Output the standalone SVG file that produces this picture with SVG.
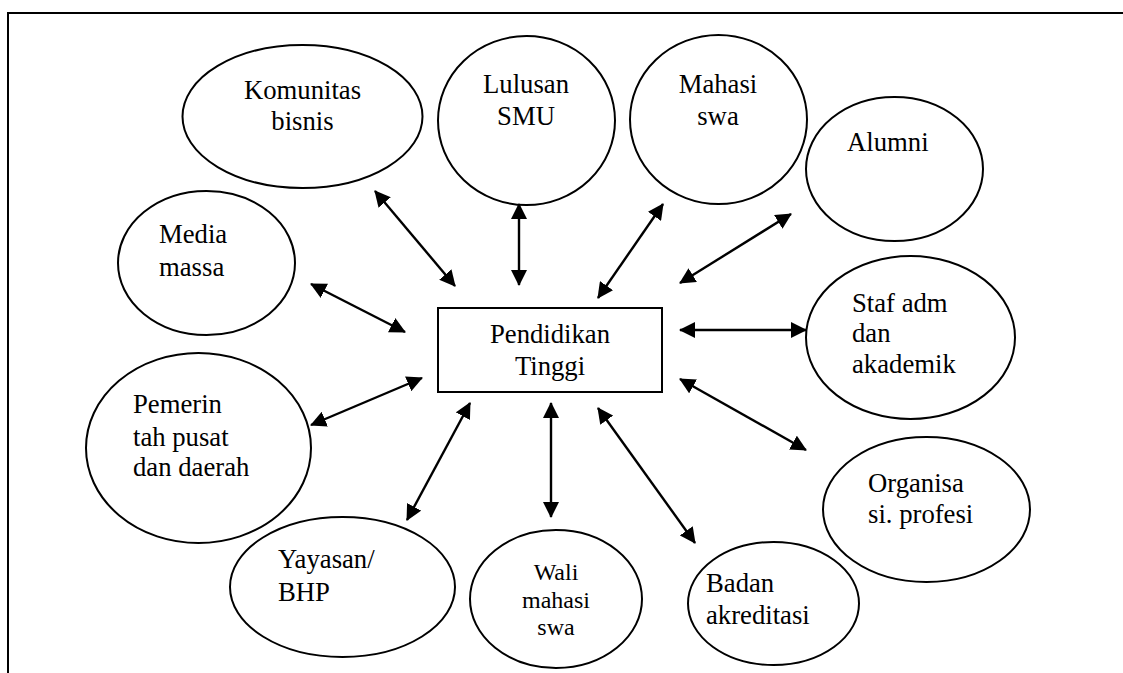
<svg xmlns="http://www.w3.org/2000/svg" width="1123" height="673" viewBox="0 0 1123 673">
  <style>
    .node { fill: #ffffff; stroke: #000000; stroke-width: 2; }
    .lbl { font-size: 26.7px; fill: #000000; }
    .sm { font-size: 24px; }
    .mid { text-anchor: middle; }
    .link { stroke: #000000; stroke-width: 2.4; fill: none; marker-start: url(#head); marker-end: url(#head); }
    .frame { stroke: #000000; stroke-width: 2; fill: none; }
  </style>
  <defs>
    <marker id="head" viewBox="0 0 16 16" refX="15" refY="8" markerWidth="16" markerHeight="16" markerUnits="userSpaceOnUse" orient="auto-start-reverse">
      <path d="M0,0 L16,8 L0,16 Z" fill="#000000"/>
    </marker>
  </defs>

  <rect width="1123" height="673" fill="#ffffff"/>

  <!-- page frame -->
  <path class="frame" d="M8,673 V13 H1123"/>

  <g font-family="Liberation Serif, Tinos, DejaVu Serif, Times New Roman, serif">
    <!-- central node -->
    <g id="pendidikan-tinggi">
      <rect class="node" x="438" y="308" width="224" height="84"/>
      <text class="lbl mid" x="550" y="343">Pendidikan</text>
      <text class="lbl mid" x="550" y="375">Tinggi</text>
    </g>

    <g id="komunitas-bisnis">
      <ellipse class="node" cx="302.5" cy="116.5" rx="120" ry="71.5"/>
      <text class="lbl mid" x="302.5" y="99">Komunitas</text>
      <text class="lbl mid" x="302.5" y="130">bisnis</text>
    </g>

    <g id="lulusan-smu">
      <ellipse class="node" cx="526.5" cy="120.5" rx="88.5" ry="84.5"/>
      <text class="lbl mid" x="526" y="93">Lulusan</text>
      <text class="lbl mid" x="526" y="125">SMU</text>
    </g>

    <g id="mahasiswa">
      <ellipse class="node" cx="718.5" cy="119.5" rx="88.5" ry="84.5"/>
      <text class="lbl mid" x="718" y="93">Mahasi</text>
      <text class="lbl mid" x="718" y="125">swa</text>
    </g>

    <g id="alumni">
      <ellipse class="node" cx="894.5" cy="169" rx="88.5" ry="72"/>
      <text class="lbl" x="847" y="151">Alumni</text>
    </g>

    <g id="media-massa">
      <ellipse class="node" cx="206.5" cy="263" rx="88.5" ry="72"/>
      <text class="lbl" x="159" y="243">Media</text>
      <text class="lbl" x="159" y="276">massa</text>
    </g>

    <g id="staf-adm">
      <ellipse class="node" cx="910.5" cy="337.5" rx="104.5" ry="81.5"/>
      <text class="lbl" x="852" y="312">Staf adm</text>
      <text class="lbl" x="852" y="342">dan</text>
      <text class="lbl" x="852" y="373">akademik</text>
    </g>

    <g id="pemerintah">
      <ellipse class="node" cx="198.5" cy="448" rx="112.5" ry="95"/>
      <text class="lbl" x="133" y="413">Pemerin</text>
      <text class="lbl" x="133" y="446">tah pusat</text>
      <text class="lbl" x="133" y="476">dan daerah</text>
    </g>

    <g id="organisasi-profesi">
      <ellipse class="node" cx="926.5" cy="509.5" rx="103.5" ry="72.5"/>
      <text class="lbl" x="868" y="492">Organisa</text>
      <text class="lbl" x="868" y="523">si. profesi</text>
    </g>

    <g id="yayasan">
      <ellipse class="node" cx="342.5" cy="587" rx="112.5" ry="70"/>
      <text class="lbl" x="278" y="568">Yayasan/</text>
      <text class="lbl" x="278" y="601">BHP</text>
    </g>

    <g id="wali-mahasiswa">
      <ellipse class="node" cx="556" cy="599" rx="86" ry="69"/>
      <text class="lbl sm mid" x="556" y="580">Wali</text>
      <text class="lbl sm mid" x="556" y="608">mahasi</text>
      <text class="lbl sm mid" x="556" y="635">swa</text>
    </g>

    <g id="badan-akreditasi">
      <ellipse class="node" cx="773.5" cy="603.5" rx="85.5" ry="61.5"/>
      <text class="lbl" x="706" y="592">Badan</text>
      <text class="lbl" x="706" y="624">akreditasi</text>
    </g>
  </g>

  <!-- two-way links to the central node -->
  <g id="connectors">
    <line class="link" x1="375" y1="191" x2="455" y2="286"/>
    <line class="link" x1="519" y1="204" x2="519" y2="285"/>
    <line class="link" x1="663" y1="204" x2="598" y2="298"/>
    <line class="link" x1="791" y1="214" x2="680" y2="283"/>
    <line class="link" x1="311" y1="284" x2="405" y2="332"/>
    <line class="link" x1="680" y1="330" x2="806" y2="330"/>
    <line class="link" x1="311" y1="425" x2="422" y2="378"/>
    <line class="link" x1="680" y1="379" x2="806" y2="450"/>
    <line class="link" x1="407" y1="520" x2="470" y2="403"/>
    <line class="link" x1="551" y1="403" x2="551" y2="517"/>
    <line class="link" x1="598" y1="408" x2="695" y2="543"/>
  </g>
</svg>
